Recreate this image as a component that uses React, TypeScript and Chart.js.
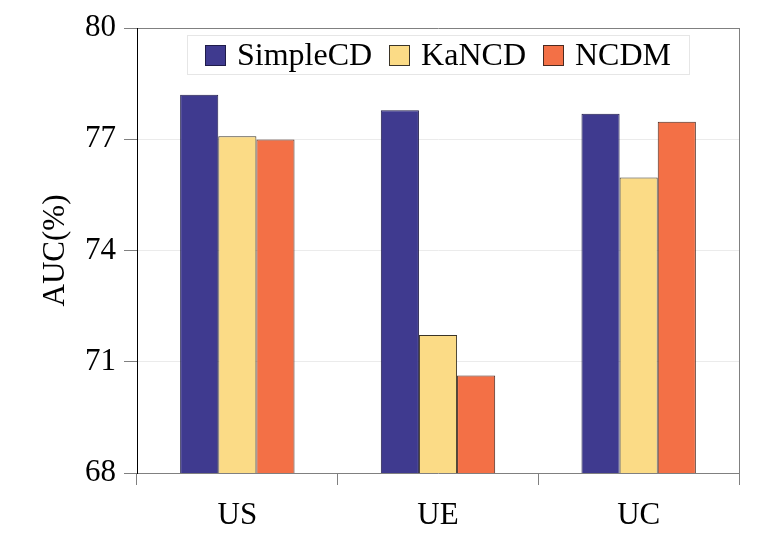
import { useEffect, useRef } from 'react';
import { Chart, registerables } from 'chart.js';

Chart.register(...registerables);

const categories = ['US', 'UE', 'UC'];
const simpleCD = [78.2, 77.78, 77.69];
const kaNCD = [77.08, 71.72, 75.97];
const ncdm = [76.99, 70.63, 77.47];
const yTicks = [68, 71, 74, 77, 80];

const serif = 'Liberation Serif, Times New Roman, serif';

// right border of the plot plus a legend drawn inside the plot, in a thin frame
const framePlugin = {
    id: 'frame',
    afterDraw(chart: any) {
        const { ctx, chartArea } = chart;
        ctx.save();
        ctx.strokeStyle = '#808080';
        ctx.lineWidth = 1;
        ctx.beginPath();
        ctx.moveTo(chartArea.right + 0.5, chartArea.top);
        ctx.lineTo(chartArea.right + 0.5, chartArea.bottom);
        ctx.stroke();

        const sets = chart.data.datasets;
        const box = 21, gap = 11, itemGap = 17, padX = 18;
        ctx.font = '32px ' + serif;
        const widths = sets.map((d: any) => ctx.measureText(d.label).width);
        const total = widths.reduce((a: number, w: number) => a + box + gap + w, 0) + itemGap * (sets.length - 1);
        const cx = (chartArea.left + chartArea.right) / 2;
        let x = cx - total / 2;
        const top = chartArea.top + 7;
        const boxTop = chartArea.top + 17;

        ctx.strokeStyle = '#e6e6e6';
        ctx.strokeRect(Math.round(x - padX) + 0.5, Math.round(top) + 0.5, Math.round(total + padX * 2), 39);

        ctx.textBaseline = 'middle';
        ctx.fillStyle = '#000';
        sets.forEach((d: any, i: number) => {
            ctx.fillStyle = d.backgroundColor;
            ctx.fillRect(Math.round(x), boxTop, box, box);
            ctx.strokeStyle = d.borderColor;
            ctx.strokeRect(Math.round(x) + 0.5, boxTop + 0.5, box - 1, box - 1);
            ctx.fillStyle = '#000';
            ctx.fillText(d.label, x + box + gap, boxTop + box / 2 + 1);
            x += box + gap + widths[i] + itemGap;
        });
        ctx.restore();
    },
};

export default function App() {
    const chartRef = useRef<HTMLCanvasElement>(null);

    useEffect(() => {
        document.body.style.margin = '0';
        const chart = new Chart(chartRef.current as HTMLCanvasElement, {
            type: 'bar',
            data: {
                labels: categories,
                datasets: [
                    { label: 'SimpleCD', data: simpleCD, backgroundColor: '#3f3a8f', borderColor: '#1f1c4a', borderWidth: 1 },
                    { label: 'KaNCD', data: kaNCD, backgroundColor: '#fbdb86', borderColor: '#3a3428', borderWidth: 1 },
                    { label: 'NCDM', data: ncdm, backgroundColor: '#f37046', borderColor: '#4a2a20', borderWidth: 1 },
                ],
            },
            options: {
                animation: false,
                responsive: true,
                maintainAspectRatio: false,
                layout: { padding: { top: 28, right: 22, left: 0, bottom: 0 } },
                datasets: { bar: { categoryPercentage: 0.57, barPercentage: 1.0 } },
                plugins: {
                    tooltip: { enabled: false },
                    legend: { display: false },
                },
                scales: {
                    x: {
                        afterFit: (scale: any) => { scale.height = 65; },
                        grid: { drawOnChartArea: false, drawTicks: true, tickLength: 12, tickColor: '#808080', offset: true },
                        border: { color: '#808080' },
                        ticks: { color: '#000', font: { family: serif, size: 31 }, padding: 12 },
                    },
                    y: {
                        min: 68,
                        max: 80,
                        afterFit: (scale: any) => { scale.width = 137; },
                        afterBuildTicks: (scale: any) => { scale.ticks = yTicks.map((v) => ({ value: v })); },
                        grid: {
                            color: (c: any) => (c.tick && c.tick.value === 80 ? '#808080' : '#ebebeb'),
                            tickColor: '#808080',
                            tickLength: 13,
                        },
                        border: { color: '#000' },
                        ticks: { color: '#000', font: { family: serif, size: 31 }, padding: 8 },
                        title: {
                            display: true,
                            text: 'AUC(%)',
                            color: '#000',
                            font: { family: serif, size: 31 },
                            padding: { top: 37, bottom: 0 },
                        },
                    },
                },
            },
            plugins: [framePlugin],
        });
        return () => chart.destroy();
    }, []);

    return (
        <div style={{ width: 761, height: 538, position: 'relative' }}>
            <canvas ref={chartRef}></canvas>
        </div>
    );
}
